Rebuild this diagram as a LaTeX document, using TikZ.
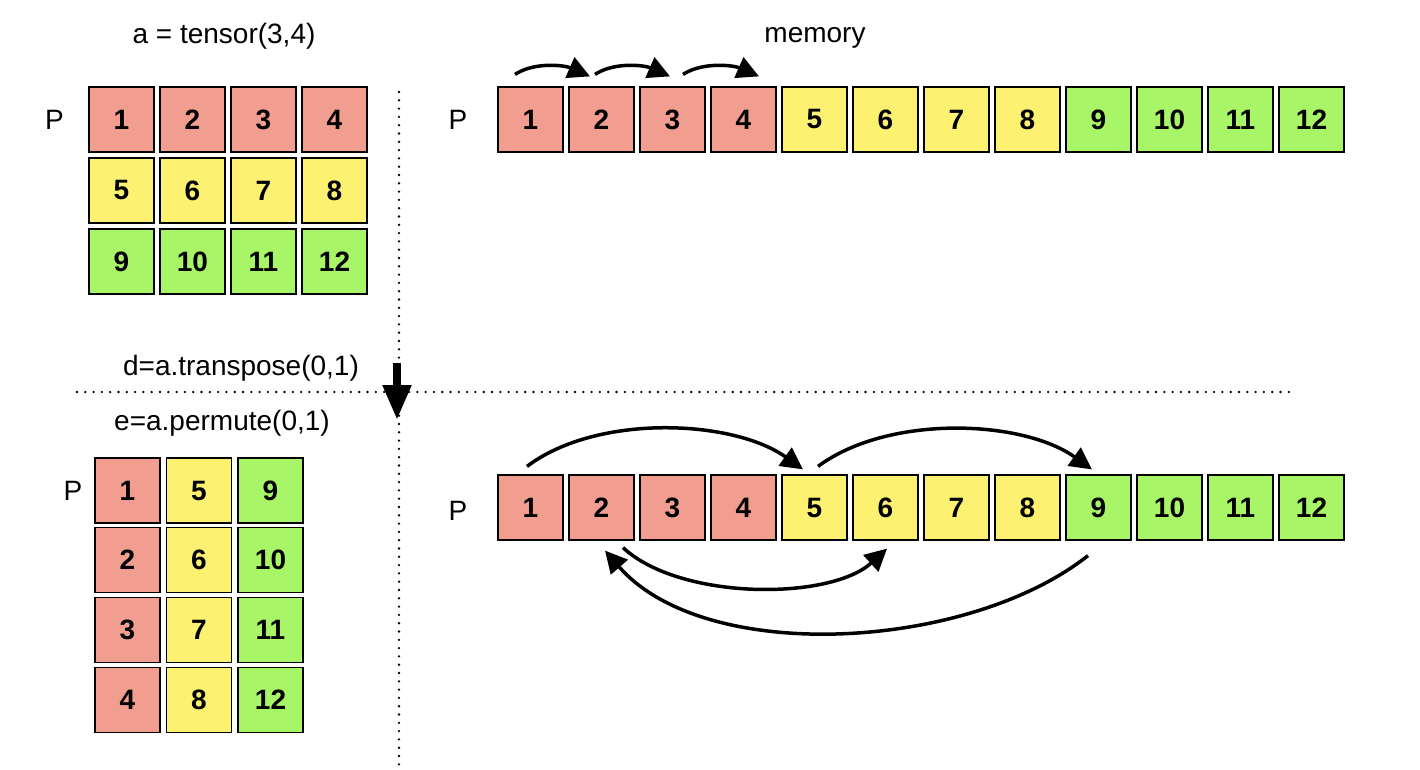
\documentclass[tikz,border=0pt]{standalone}
\usepackage{fontspec}
\setmainfont{Liberation Sans}
\usetikzlibrary{arrows.meta}
\definecolor{redcell}{RGB}{241,157,143}
\definecolor{yellowcell}{RGB}{252,241,112}
\definecolor{greencell}{RGB}{168,245,104}
\begin{document}
\begin{tikzpicture}[x=1pt, y=-1pt,
  cell/.style={draw, line width=1.2pt, minimum size=65pt, inner sep=0pt,
    font=\fontsize{28}{28}\selectfont\bfseries},
  lbl/.style={anchor=base, font=\fontsize{28}{28}\selectfont},
  dotline/.style={line width=2.6pt, line cap=round, dash pattern=on 0pt off 8.3pt},
  jump/.style={line width=3.5pt, -{Triangle[length=22pt,width=22pt]}}]
  \useasboundingbox (0,0) rectangle (1420,770);
  % a = tensor(3,4)
  \foreach \r/\col in {0/redcell,1/yellowcell,2/greencell}
    \foreach \c in {0,...,3} {
      \pgfmathtruncatemacro\n{4*\r+\c+1}
      \draw (121.5+71*\c, 119.5+71*\r) node[cell, fill=\col] (a\n) {\n};
    }
  % memory, before and after
  \foreach \col [count=\k] in {redcell,redcell,redcell,redcell,yellowcell,yellowcell,
      yellowcell,yellowcell,greencell,greencell,greencell,greencell} {
    \draw (459.5+71*\k, 119.5) node[cell, fill=\col] (m\k) {\k};
    \draw (459.5+71*\k, 507.5) node[cell, fill=\col] (q\k) {\k};
  }
  % e = a.permute(0,1)
  \foreach \c/\col in {0/redcell,1/yellowcell,2/greencell}
    \foreach \r in {0,...,3} {
      \pgfmathtruncatemacro\n{4*\c+\r+1}
      \draw (127.5+71.5*\c, 490.5+69.7*\r) node[cell, fill=\col] (e\n) {\n};
    }
  \node[lbl] (pa) at (54.5,130) {P};
  \node[lbl] (pm) at (458,130) {P};
  \node[lbl] (pe) at (73,500) {P};
  \node[lbl] (pq) at (458,520) {P};
  \node[lbl] (title) at (224,44) {a = tensor(3,4)};
  \node[lbl] (mem) at (815,43) {memory};
  \node[lbl] (tr) at (241,375) {d=a.transpose(0,1)};
  \node[lbl] (pmt) at (222,430) {e=a.permute(0,1)};
  % separators
  \coordinate (vtop) at (399,92);
  \coordinate (vbot) at (399,770);
  \coordinate (hleft) at (77,392);
  \coordinate (hright) at (1292,392);
  \draw[dotline] (vtop) -- (vbot);
  \draw[dotline] (hleft) -- (hright);
  \coordinate (dtop) at (397,363);
  \coordinate (dtip) at (397,420);
  \draw[line width=8pt, -{Triangle[length=35pt,width=27pt]}] (dtop) -- (dtip);
  % strides
  \foreach \i/\j/\sx/\ex in {1/2/-15.5/-11.5, 2/3/-6.5/-2.5, 3/4/10.5/15.5}
    \draw[jump] ([xshift=\sx pt,yshift=12pt]m\i.north) .. controls +(20,-13) and +(-25,-11)
      .. ([xshift=\ex pt,yshift=10pt]m\j.north);
  \draw[jump] ([xshift=-3.5pt,yshift=8pt]q1.north) .. controls +(70,-53) and +(-70,-50)
    .. ([xshift=-11.5pt,yshift=5pt]q5.north);
  \draw[jump] ([xshift=3.5pt,yshift=8pt]q5.north) .. controls +(70,-52) and +(-70,-50)
    .. ([xshift=-6.5pt,yshift=5pt]q9.north);
  \draw[jump] ([xshift=21.5pt,yshift=-7pt]q2.south) .. controls +(57,53) and +(-57,52)
    .. ([xshift=1.5pt,yshift=-8pt]q6.south);
  \draw[jump] ([xshift=-10.5pt,yshift=-15pt]q9.south) .. controls +(-120,95) and +(100,115)
    .. ([xshift=3.5pt,yshift=-10pt]q2.south);
\end{tikzpicture}
\end{document}
